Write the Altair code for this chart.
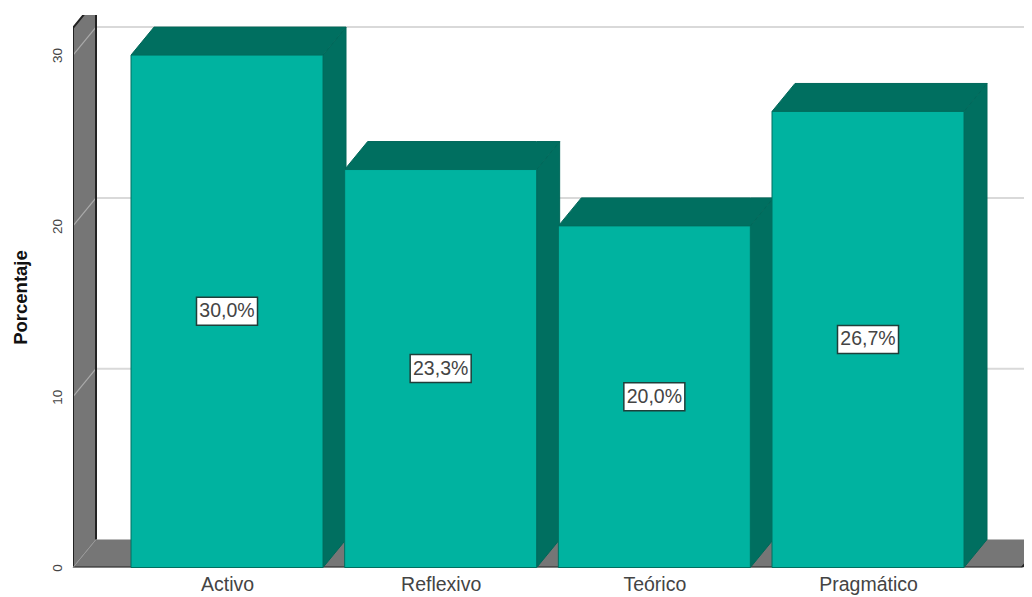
import altair as alt
import pandas as pd

categories = ["Activo", "Reflexivo", "Teórico", "Pragmático"]
values = [30.0, 23.3, 20.0, 26.7]
labels = ["30,0%", "23,3%", "20,0%", "26,7%"]
grid_values = [10, 20, 30]
tick_values = [0, 10, 20, 30]

# scale set-up (pixels per unit on each axis)
PX_X = 213.67
PX_Y = 17.08
X_MIN = (73 - 227) / PX_X
X_MAX = (1024 - 227) / PX_X
Y_MAX = 552.5 / PX_Y
HALF = 96 / PX_X
DX = 23 / PX_X
DY = 28 / PX_Y
FLOOR_END = (1022 - 227) / PX_X
WALL_TOP = 31.6
BOX_W = 30.5 / PX_X
BOX_H = 14 / PX_Y

FRONT = "#00B3A0"
DARK = "#006F60"
GREY = "#767676"
EDGE = "#222222"
GRID = "#D9D9D9"

fronts = pd.DataFrame({
    "i": range(4), "cat": categories, "v": values, "label": labels,
})
fronts["x0"] = fronts.i - HALF
fronts["x1"] = fronts.i + HALF
fronts["mid"] = fronts.v / 2
fronts["bx0"] = fronts.i - BOX_W
fronts["bx1"] = fronts.i + BOX_W
fronts["by0"] = fronts.mid - BOX_H
fronts["by1"] = fronts.mid + BOX_H
fronts["base"] = 0.0

faces = []
for i, v in enumerate(values):
    l, r = i - HALF, i + HALF
    faces += [
        dict(id=f"s{i}", x=r, y=0, y2=v),
        dict(id=f"s{i}", x=r + DX, y=DY, y2=v + DY),
    ]
    faces += [
        dict(id=f"t{i}", x=l, y=v, y2=v),
        dict(id=f"t{i}", x=l + DX, y=v, y2=v + DY),
        dict(id=f"t{i}", x=r, y=v, y2=v + DY),
        dict(id=f"t{i}", x=r + DX, y=v + DY, y2=v + DY),
    ]
faces = pd.DataFrame(faces)

walls = pd.DataFrame([
    dict(id="wall", x=X_MIN, y=0, y2=WALL_TOP),
    dict(id="wall", x=X_MIN + DX, y=DY, y2=WALL_TOP + DY),
    dict(id="floor", x=X_MIN, y=0, y2=0),
    dict(id="floor", x=X_MIN + DX, y=0, y2=DY),
    dict(id="floor", x=FLOOR_END, y=0, y2=DY),
    dict(id="floor", x=FLOOR_END + DX, y=DY, y2=DY),
])

wall_lines = []
back_lines = []
for g in grid_values:
    wall_lines += [dict(id=f"w{g}", x=X_MIN, y=g), dict(id=f"w{g}", x=X_MIN + DX, y=g + DY)]
    back_lines += [dict(id=f"b{g}", x=X_MIN + DX, y=g + DY), dict(id=f"b{g}", x=X_MAX, y=g + DY)]
wall_lines = pd.DataFrame(wall_lines)
back_lines = pd.DataFrame(back_lines)

outer = pd.DataFrame([
    dict(o=0, x=FLOOR_END, y=0),
    dict(o=1, x=X_MIN, y=0),
    dict(o=2, x=X_MIN, y=WALL_TOP),
    dict(o=3, x=X_MIN + DX, y=WALL_TOP + DY),
])
right = pd.DataFrame([dict(o=0, x=FLOOR_END, y=0), dict(o=1, x=FLOOR_END + DX, y=DY)])
back = pd.DataFrame([dict(o=0, x=X_MIN + DX, y=DY), dict(o=1, x=X_MIN + DX, y=Y_MAX)])
diag = pd.DataFrame([dict(x=X_MIN, y=0), dict(x=X_MIN + DX, y=DY)])

xs = alt.Scale(domain=[X_MIN, X_MAX], nice=False, zero=False)
ys = alt.Scale(domain=[0, Y_MAX], nice=False, zero=False)

labelexpr = "['Activo','Reflexivo','Teórico','Pragmático'][datum.value]"
x_axis = alt.Axis(
    values=[0, 1, 2, 3], labelExpr=labelexpr, title=None, grid=False, ticks=False,
    domain=False, labelFontSize=19.5, labelFont="Liberation Sans", labelColor="#444444",
    labelPadding=8, labelOverlap=False, labelFlush=False)
y_axis = alt.Axis(
    values=tick_values, title="Porcentaje", grid=False, ticks=False, domain=False,
    labelAngle=-90, labelAlign="center", labelBaseline="middle", labelPadding=16,
    labelFontSize=13.5, labelFont="Liberation Sans", labelColor="#444444",
    titleFont="Liberation Sans", titleFontSize=18.5, titleFontWeight="bold",
    titleColor="#111111", titleX=-53, titleY=282, titleAngle=-90,
    titleAlign="center", titleBaseline="middle")


def X(f="x"):
    return alt.X(f"{f}:Q", scale=xs, axis=x_axis)


def Y(f="y"):
    return alt.Y(f"{f}:Q", scale=ys, axis=y_axis)


bg = alt.Chart(walls).mark_area(color=GREY, clip=True).encode(
    x=X(), y=Y(), y2="y2:Q", detail="id:N")
grid_back = alt.Chart(back_lines).mark_line(color=GRID, strokeWidth=2, clip=True).encode(
    x=X(), y=Y(), detail="id:N")
grid_wall = alt.Chart(wall_lines).mark_line(color="#ABABAB", strokeWidth=1.2, clip=True).encode(
    x=X(), y=Y(), detail="id:N")
edge1 = alt.Chart(outer).mark_line(color=EDGE, strokeWidth=2, clip=True).encode(
    x=X(), y=Y(), order="o:Q")
edge2 = alt.Chart(right).mark_line(color=EDGE, strokeWidth=2, clip=True).encode(
    x=X(), y=Y(), order="o:Q")
back_edge = alt.Chart(back).mark_line(color=EDGE, strokeWidth=2, clip=True).encode(
    x=X(), y=Y(), order="o:Q")
diag_line = alt.Chart(diag).mark_line(color="#999999", strokeWidth=1).encode(x=X(), y=Y())

side_top = alt.Chart(faces).mark_area(color=DARK, stroke="#00685A", strokeWidth=1, clip=True).encode(
    x=X(), y=Y(), y2="y2:Q", detail="id:N")
front = alt.Chart(fronts).mark_rect(color=FRONT, stroke=DARK, strokeWidth=1).encode(
    x=X("x0"), x2="x1:Q", y=Y("base"), y2="v:Q")
box = alt.Chart(fronts).mark_rect(color="white", stroke="#1F3F3A", strokeWidth=1.5).encode(
    x=X("bx0"), x2="bx1:Q", y=Y("by0"), y2="by1:Q")
text = alt.Chart(fronts).mark_text(font="Liberation Sans", fontSize=19.5, color="#444444").encode(
    x=X("i"), y=Y("mid"), text="label:N")

chart = alt.layer(
    bg, grid_back, grid_wall, back_edge, edge1, edge2, diag_line, side_top, front, box, text
).properties(
    width=951, height=552.5,
    padding={"left": 65, "top": 7, "right": 0, "bottom": 30},
    autosize=alt.AutoSizeParams(type="none"),
    background="white",
).configure_view(stroke=None)

chart.save("out.html", embed_options={"renderer": "svg", "actions": False})
